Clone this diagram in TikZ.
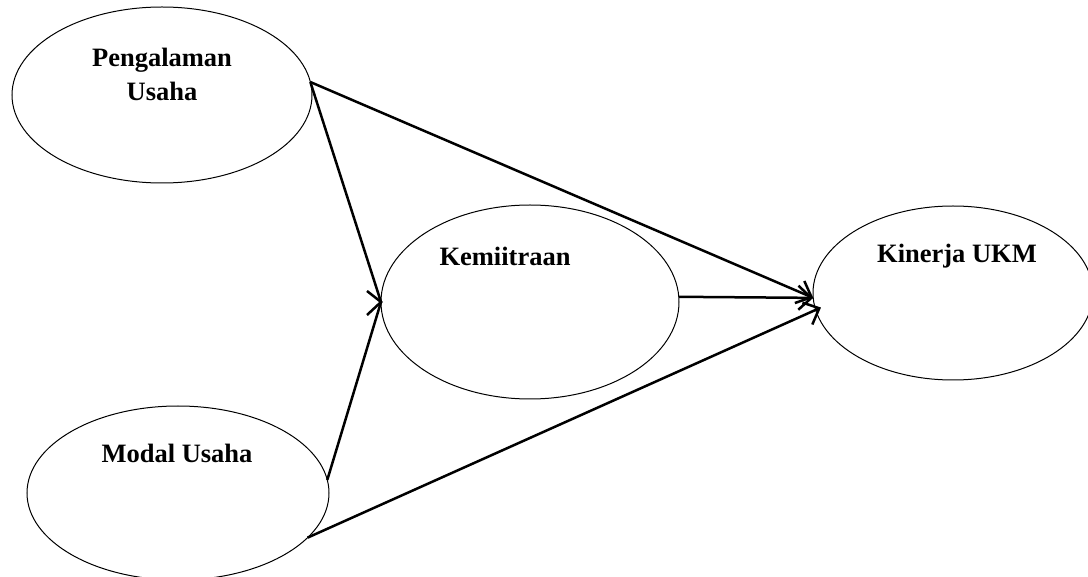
\documentclass[tikz,border=0pt]{standalone}
\usepackage{fontspec}
\setmainfont{Liberation Serif}
\usetikzlibrary{shapes.geometric,arrows.meta,calc}
\begin{document}
\begin{tikzpicture}[x=1pt,y=-1pt,
  oval/.style={draw,ellipse,line width=1pt,inner sep=0pt,outer sep=0pt},
  lbl/.style={anchor=base,inner sep=0pt,font=\fontsize{26.5}{34}\selectfont\bfseries},
  conn/.style={line width=2.5pt},
  arr/.style={conn,-{Straight Barb[length=13pt,width=24pt,line width=2.5pt]}}]
\clip (0,0) rectangle (1088,577);
\fill[white] (0,0) rectangle (1088,577);
\node[oval,minimum width=300pt,minimum height=176pt] (e1) at (162,95) {};
\node[oval,minimum width=302pt,minimum height=174pt] (e2) at (178,493) {};
\node[oval,minimum width=298pt,minimum height=194pt] (e3) at (530,302) {};
\node[oval,minimum width=280pt,minimum height=174pt] (e4) at (953,293) {};
\node[lbl] (t1a) at (162,66.7) {Pengalaman};
\node[lbl] (t1b) at (162,101) {Usaha};
\node[lbl] (t2) at (177,463) {Modal Usaha};
\node[lbl] (t3) at (505,266) {Kemiitraan};
\node[lbl] (t4) at (957,263) {Kinerja UKM};
\draw[conn] (e1.5) -- (e3.west);
\draw[conn] (e2.5) -- (e3.west);
\draw[conn] ($(e3.west)+(-14,-11)$) -- (e3.west) -- ($(e3.west)+(-14,13)$);
\draw[arr] (e1.5) -- (e4.182);
\draw[arr] (e3.2) -- (e4.182);
\draw[arr] (e2.-19) -- ($(e4.186)+(6,0)$);
\end{tikzpicture}
\end{document}
